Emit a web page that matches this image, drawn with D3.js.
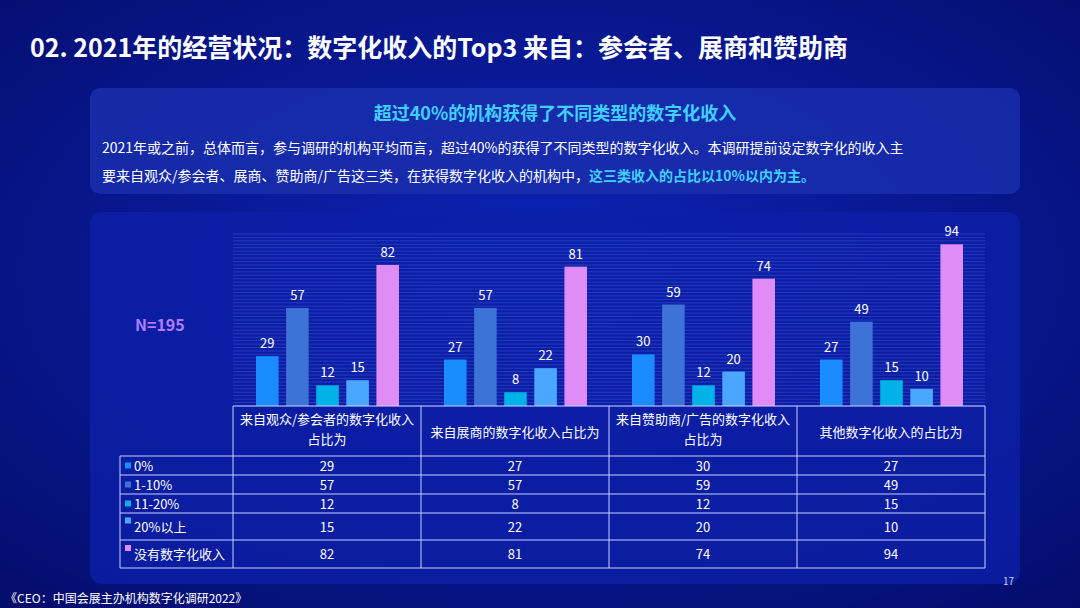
<!DOCTYPE html>
<html><head><meta charset="utf-8">
<script src="https://cdn.jsdelivr.net/npm/d3@7"></script>
<style>
body{margin:0;width:1080px;height:608px;overflow:hidden;background:#06128a;font-family:"Noto Sans CJK SC","Noto Sans",sans-serif;}
</style></head><body>
<svg id="c" width="1080" height="608"></svg>
<script>
var categories = ["来自观众/参会者的数字化收入占比为", "来自展商的数字化收入占比为", "来自赞助商/广告的数字化收入占比为", "其他数字化收入的占比为"];
var headerLines = [["来自观众/参会者的数字化收入", "占比为"], ["来自展商的数字化收入占比为"], ["来自赞助商/广告的数字化收入", "占比为"], ["其他数字化收入的占比为"]];
var series = ["0%", "1-10%", "11-20%", "20%以上", "没有数字化收入"];
var values = [
  [29, 27, 30, 27],
  [57, 57, 59, 49],
  [12, 8, 12, 15],
  [15, 22, 20, 10],
  [82, 81, 74, 94]
];
var colors = ["#1a8cff", "#3d72d6", "#00b2e8", "#4aa6ff", "#e08cf6"];

var svg = d3.select("#c");
var defs = svg.append("defs");
var g1 = defs.append("radialGradient").attr("id", "bg").attr("cx", "50%").attr("cy", "45%").attr("r", "75%");
g1.append("stop").attr("offset", "0%").attr("stop-color", "#0d24b8");
g1.append("stop").attr("offset", "100%").attr("stop-color", "#040c6a");
svg.append("rect").attr("width", 1080).attr("height", 608).attr("fill", "url(#bg)");

svg.append("text").attr("x", 30).attr("y", 57).attr("fill", "#fff").attr("font-size", 25).attr("font-weight", "bold")
  .text("02. 2021年的经营状况：数字化收入的Top3 来自：参会者、展商和赞助商");

// text panel
svg.append("rect").attr("x", 90).attr("y", 88).attr("width", 930).attr("height", 106).attr("rx", 10).attr("fill", "#1a2fae").attr("opacity", 0.8);
svg.append("text").attr("x", 555).attr("y", 120).attr("text-anchor", "middle").attr("fill", "#3fd0ff").attr("font-size", 18).attr("font-weight", "bold")
  .text("超过40%的机构获得了不同类型的数字化收入");
svg.append("text").attr("x", 102).attr("y", 153).attr("fill", "#fff").attr("font-size", 14)
  .text("2021年或之前，总体而言，参与调研的机构平均而言，超过40%的获得了不同类型的数字化收入。本调研提前设定数字化的收入主");
var t2 = svg.append("text").attr("x", 102).attr("y", 181).attr("fill", "#fff").attr("font-size", 14);
t2.append("tspan").text("要来自观众/参会者、展商、赞助商/广告这三类，在获得数字化收入的机构中，");
t2.append("tspan").attr("fill", "#3fd0ff").attr("font-weight", "bold").text("这三类收入的占比以10%以内为主。");

// chart panel
svg.append("rect").attr("x", 90).attr("y", 212).attr("width", 930).attr("height", 372).attr("rx", 12).attr("fill", "#0c1fa6").attr("opacity", 0.85);

var x0 = d3.scaleBand().domain(categories).range([233, 985]);
var x1 = d3.scaleBand().domain(series).range([23, 166]).paddingInner(0.25);
var y = d3.scaleLinear().domain([0, 100]).range([406, 234]);

var grid = svg.append("g");
grid.selectAll("line").data(d3.range(0, 101, 2)).enter().append("line")
  .attr("x1", 233).attr("x2", 985).attr("y1", function(d) { return y(d); }).attr("y2", function(d) { return y(d); })
  .attr("stroke", "#5a74f0").attr("stroke-opacity", 0.35).attr("stroke-width", 1);

var grp = svg.selectAll(".grp").data(categories).enter().append("g")
  .attr("transform", function(d) { return "translate(" + x0(d) + ",0)"; });
grp.selectAll("rect").data(function(d, ci) { return series.map(function(s, si) { return {s: s, v: values[si][ci], i: si}; }); })
  .enter().append("rect")
  .attr("x", function(d) { return x1(d.s); }).attr("width", x1.bandwidth())
  .attr("y", function(d) { return y(d.v); }).attr("height", function(d) { return y(0) - y(d.v); })
  .attr("fill", function(d) { return colors[d.i]; });
grp.selectAll("text").data(function(d, ci) { return series.map(function(s, si) { return {s: s, v: values[si][ci]}; }); })
  .enter().append("text")
  .attr("x", function(d) { return x1(d.s) + x1.bandwidth() / 2; }).attr("y", function(d) { return y(d.v) - 8; })
  .attr("text-anchor", "middle").attr("fill", "#fff").attr("font-size", 13).text(function(d) { return d.v; });

svg.append("text").attr("x", 135).attr("y", 331).attr("fill", "#b07cff").attr("font-size", 16).attr("font-weight", "bold").text("N=195");

// data table
var rowY = [406, 456, 475, 494, 513, 540, 568];
var tbl = svg.append("g").attr("stroke", "#c8d0ff").attr("stroke-width", 1).attr("fill", "none");
tbl.append("line").attr("x1", 233).attr("x2", 985).attr("y1", 406).attr("y2", 406);
rowY.slice(1).forEach(function(yy) { tbl.append("line").attr("x1", 120).attr("x2", 985).attr("y1", yy).attr("y2", yy); });
tbl.append("line").attr("x1", 120).attr("x2", 120).attr("y1", 456).attr("y2", 568);
x0.domain().forEach(function(c) { tbl.append("line").attr("x1", x0(c)).attr("x2", x0(c)).attr("y1", 406).attr("y2", 568); });
tbl.append("line").attr("x1", 985).attr("x2", 985).attr("y1", 406).attr("y2", 568);

categories.forEach(function(c, ci) {
  var cx = x0(c) + x0.bandwidth() / 2;
  var lines = headerLines[ci];
  var startY = lines.length === 2 ? 424 : 437;
  lines.forEach(function(l, li) {
    svg.append("text").attr("x", cx).attr("y", startY + li * 20).attr("text-anchor", "middle").attr("fill", "#fff").attr("font-size", 13).text(l);
  });
  series.forEach(function(s, si) {
    var my = (rowY[si + 1] + rowY[si + 2]) / 2;
    svg.append("text").attr("x", cx).attr("y", my + 5).attr("text-anchor", "middle").attr("fill", "#fff").attr("font-size", 13).text(values[si][ci]);
  });
});
series.forEach(function(s, si) {
  var my = (rowY[si + 1] + rowY[si + 2]) / 2;
  var top = si >= 3 ? my - 9 : my - 3;
  svg.append("rect").attr("x", 125).attr("y", top).attr("width", 6).attr("height", 6).attr("fill", colors[si]);
  svg.append("text").attr("x", 134).attr("y", my + 5).attr("fill", "#fff").attr("font-size", 13).text(s);
});

svg.append("text").attr("x", 1003).attr("y", 585).attr("fill", "#ccd").attr("font-size", 10).text("17");
svg.append("text").attr("x", 5).attr("y", 603).attr("fill", "#fff").attr("font-size", 12).text("《CEO：中国会展主办机构数字化调研2022》");
</script></body></html>
